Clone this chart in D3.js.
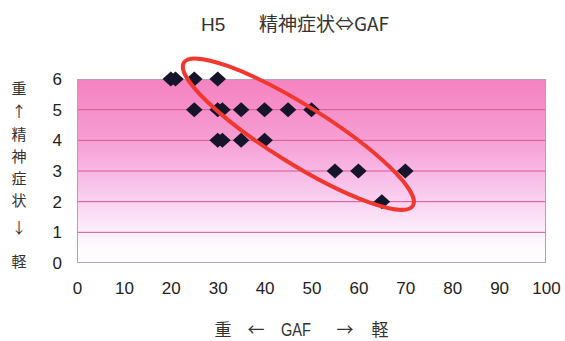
<!DOCTYPE html>
<html>
<head>
<meta charset="utf-8">
<script src="https://cdn.jsdelivr.net/npm/d3@7"></script>
<style>
  html, body { margin: 0; padding: 0; background: #fff; }
  svg { display: block; }
</style>
</head>
<body>
<svg id="chart" width="565" height="341"></svg>
<script>
// GAF score (x) against psychiatric symptom grade (y)
const gafValues     = [20, 21, 25, 30, 25, 30, 31, 35, 40, 45, 50, 30, 31, 35, 40, 55, 60, 70, 65];
const symptomValues = [ 6,  6,  6,  6,  5,  5,  5,  5,  5,  5,  5,  4,  4,  4,  4,  3,  3,  3,  2];

const xTickValues = [0, 10, 20, 30, 40, 50, 60, 70, 80, 90, 100];
const yTickValues = [0, 1, 2, 3, 4, 5, 6];

const titleLead = "H5";
const titleMain = "精神症状⇔GAF";
const xLabelParts = ["重", "←", "GAF", "→", "軽"];
const yLabelChars = ["重", "↑", "精", "神", "症", "状", "↓", "軽"];

// highlighted cluster: centre in data units
const clusterCentre = [47.2, 4.2];

const svg = d3.select("#chart");
const plot = { left: 77, right: 546, top: 79, bottom: 263 };

const x = d3.scaleLinear().domain([0, 100]).range([plot.left, plot.right]);
const y = d3.scaleLinear().domain([0, 6]).range([plot.bottom, plot.top]);

const latin = "'Liberation Sans', Arial, sans-serif";
const cjk = "'Noto Sans CJK JP', 'Liberation Sans', sans-serif";

// plot background gradient
const defs = svg.append("defs");
const grad = defs.append("linearGradient")
  .attr("id", "bg").attr("x1", 0).attr("y1", 0).attr("x2", 0).attr("y2", 1);
[[0, "#f482c0"], [0.3, "#f69bd2"], [0.55, "#f8bfe9"], [0.8, "#fce9f9"], [0.92, "#fffbfe"], [1, "#ffffff"]]
  .forEach(([o, c]) => grad.append("stop").attr("offset", o).attr("stop-color", c));

svg.append("rect")
  .attr("x", plot.left).attr("y", plot.top)
  .attr("width", plot.right - plot.left).attr("height", plot.bottom - plot.top)
  .attr("fill", "url(#bg)");

// horizontal gridlines
svg.append("g").selectAll("line")
  .data(yTickValues.filter(v => v > 0 && v < 6))
  .join("line")
  .attr("x1", plot.left).attr("x2", plot.right)
  .attr("y1", d => y(d)).attr("y2", d => y(d))
  .attr("stroke", "#d8558f").attr("stroke-width", 1);

// plot frame
svg.append("rect")
  .attr("x", plot.left + 0.5).attr("y", plot.top + 0.5)
  .attr("width", plot.right - plot.left - 1).attr("height", plot.bottom - plot.top - 1)
  .attr("fill", "none").attr("stroke", "#b4a0b8").attr("stroke-width", 1);

// axes
const xAxis = svg.append("g")
  .attr("transform", `translate(0,${plot.bottom})`)
  .call(d3.axisBottom(x).tickValues(xTickValues).tickFormat(d3.format("d")).tickSize(0).tickPadding(19));
const yAxis = svg.append("g")
  .attr("transform", `translate(${plot.left},0)`)
  .call(d3.axisLeft(y).tickValues(yTickValues).tickFormat(d3.format("d")).tickSize(0).tickPadding(15));
[xAxis, yAxis].forEach(g => {
  g.select(".domain").remove();
  g.selectAll("text")
    .attr("font-family", latin).attr("font-size", 17).attr("fill", "#222");
});

// data points
const diamond = "M0,-7.5L8.3,0L0,7.5L-8.3,0Z";
svg.append("g").selectAll("path")
  .data(gafValues.map((g, i) => [g, symptomValues[i]]))
  .join("path")
  .attr("d", diamond)
  .attr("transform", d => `translate(${x(d[0])},${y(d[1])})`)
  .attr("fill", "#15142a");

// cluster outline
svg.append("ellipse")
  .attr("cx", 0).attr("cy", 0).attr("rx", 135).attr("ry", 29)
  .attr("transform", `translate(${x(clusterCentre[0])},${y(clusterCentre[1])}) rotate(32)`)
  .attr("fill", "none").attr("stroke", "#f0382e").attr("stroke-width", 4);

// title
svg.append("text").text(titleLead)
  .attr("x", 201).attr("y", 31)
  .attr("font-family", latin).attr("font-size", 19).attr("fill", "#333");
svg.append("text").text(titleMain)
  .attr("x", 259).attr("y", 31)
  .attr("font-family", cjk).attr("font-size", 19).attr("fill", "#333");

// x-axis label
const xLabelX = [223, 256, 296, 345, 380];
xLabelParts.forEach((t, i) => {
  const el = svg.append("text").text(t)
    .attr("x", xLabelX[i]).attr("y", 336)
    .attr("text-anchor", "middle")
    .attr("font-family", t === "GAF" ? latin : cjk)
    .attr("font-size", t === "GAF" ? 18 : 17).attr("fill", "#333");
  if (t === "GAF") el.attr("textLength", 30).attr("lengthAdjust", "spacingAndGlyphs");
});

// y-axis label, stacked vertically in a single text element
const yLabelY = [89, 112, 135, 157, 179, 201, 228, 262];
svg.append("text")
  .attr("text-anchor", "middle")
  .attr("font-family", cjk).attr("font-size", 15).attr("fill", "#333")
  .selectAll("tspan")
  .data(yLabelChars)
  .join("tspan")
  .attr("x", 19)
  .attr("y", (d, i) => yLabelY[i])
  .attr("dy", "0.36em")
  .text(d => d);
</script>
</body>
</html>
